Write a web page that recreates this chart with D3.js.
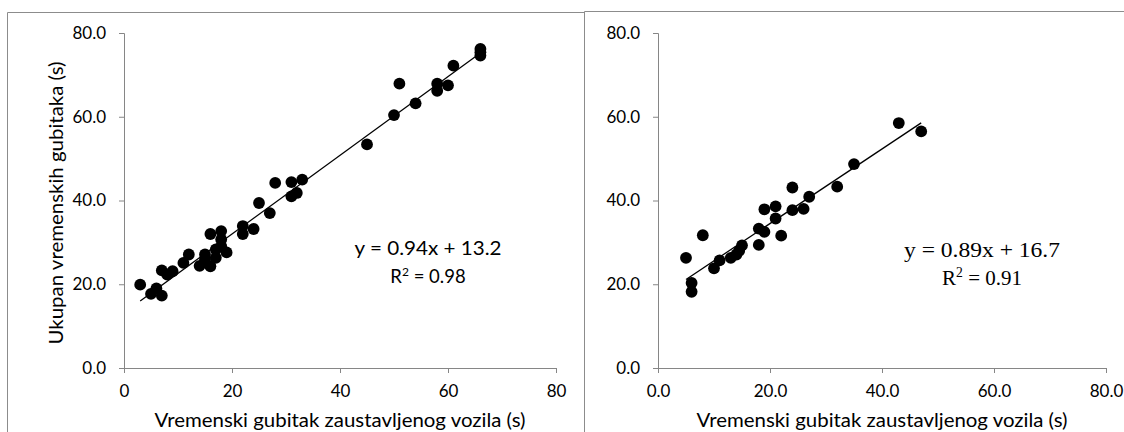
<!DOCTYPE html>
<html>
<head>
<meta charset="utf-8">
<script src="https://cdn.jsdelivr.net/npm/d3@7"></script>
<style>
  html, body { margin: 0; padding: 0; background: #fff; }
  svg { display: block; }
</style>
</head>
<body>
<svg id="chart" width="1124" height="432"></svg>
<script>
// ---- Data ----
const leftX = [3, 5, 6, 7, 7, 8, 9, 11, 12, 14, 15, 15, 16, 16, 17, 17, 18, 18, 18, 19, 22, 22, 24, 25, 27, 28, 31, 31, 32, 33, 45, 50, 51, 54, 58, 58, 60, 61, 66, 66, 66];
const leftY = [19.9, 17.7, 19.0, 17.3, 23.3, 22.3, 23.1, 25.1, 27.1, 24.4, 27.1, 25.9, 24.3, 32.0, 28.3, 26.3, 32.7, 30.7, 29.1, 27.6, 33.9, 32.0, 33.2, 39.4, 37.0, 44.2, 44.4, 41.0, 41.8, 45.0, 53.4, 60.4, 67.9, 63.2, 67.9, 66.2, 67.5, 72.2, 76.2, 75.4, 74.6];
const rightX = [5, 6, 6, 8, 10, 11, 13, 14, 14.5, 15, 18, 18, 19, 19, 21, 21, 22, 24, 24, 26, 27, 32, 35, 43, 47];
const rightY = [26.3, 20.3, 18.2, 31.7, 23.8, 25.7, 26.3, 27.1, 28.0, 29.3, 33.3, 29.4, 37.9, 32.5, 38.6, 35.7, 31.6, 43.1, 37.7, 38.0, 40.9, 43.3, 48.7, 58.5, 56.5];

const leftFit = { slope: 0.94, intercept: 13.2, xMin: 3, xMax: 66 };
const rightFit = { slope: 0.89, intercept: 16.7, xMin: 5, xMax: 47 };

const yTicks = [0, 20, 40, 60, 80];
const xTicks = [0, 20, 40, 60, 80];
const leftXTickLabels = ["0", "20", "40", "60", "80"];
const rightXTickLabels = ["0.0", "20.0", "40.0", "60.0", "80.0"];
const yTickLabels = ["0.0", "20.0", "40.0", "60.0", "80.0"];

const xTitle = "Vremenski gubitak zaustavljenog vozila (s)";
const yTitle = "Ukupan vremenskih gubitaka (s)";
const leftEq = ["y = 0.94x + 13.2", "R", "2", " = 0.98"];
const rightEq = ["y = 0.89x + 16.7", "R", "2", " = 0.91"];

// ---- Drawing ----
const svg = d3.select("#chart");
const axisColor = "#868686";
const frameColor = "#8c8c8c";
const sansFont = "Lato, 'Open Sans', sans-serif";
const serifFont = "'Liberation Serif', 'DejaVu Serif', serif";
const tickSize = "17px";

// frames
svg.append("path")
  .attr("d", "M7.5,440 V12.5 H584.5 V440")
  .attr("fill", "none").attr("stroke", frameColor).attr("stroke-width", 1);
svg.append("path")
  .attr("d", "M584.5,440 V11.5 H1130")
  .attr("fill", "none").attr("stroke", frameColor).attr("stroke-width", 1);

function panel(opts) {
  const x = d3.scaleLinear().domain([0, 80]).range([opts.x0, opts.x1]);
  const y = d3.scaleLinear().domain([0, 80]).range([368, 33]);
  const g = svg.append("g");

  // y axis
  const yAxis = d3.axisLeft(y).tickValues(yTicks)
    .tickFormat((d, i) => yTickLabels[i]).tickSizeOuter(0).tickSize(5).tickPadding(13);
  const ga = g.append("g").attr("transform", `translate(${opts.x0},0)`).call(yAxis);
  ga.select(".domain").attr("stroke", axisColor);
  ga.selectAll(".tick line").attr("stroke", axisColor);
  ga.selectAll(".tick text").attr("fill", "#000").style("font-family", sansFont).style("font-size", tickSize);

  // x axis
  const xAxis = d3.axisBottom(x).tickValues(xTicks)
    .tickFormat((d, i) => opts.xLabels[i]).tickSizeOuter(0).tickSize(5).tickPadding(12);
  const gx = g.append("g").attr("transform", "translate(0,368)").call(xAxis);
  gx.select(".domain").attr("stroke", axisColor);
  gx.selectAll(".tick line").attr("stroke", axisColor);
  gx.selectAll(".tick text").attr("fill", "#000").style("font-family", sansFont).style("font-size", tickSize);

  // points
  g.append("g").selectAll("circle")
    .data(opts.xs.map((v, i) => [v, opts.ys[i]]))
    .join("circle")
    .attr("cx", d => x(d[0])).attr("cy", d => y(d[1]))
    .attr("r", 5.9).attr("fill", "#000");

  // trend line
  const f = opts.fit;
  g.append("line")
    .attr("x1", x(f.xMin)).attr("y1", y(f.slope * f.xMin + f.intercept))
    .attr("x2", x(f.xMax)).attr("y2", y(f.slope * f.xMax + f.intercept))
    .attr("stroke", "#000").attr("stroke-width", 1.3);

  // x title
  g.append("text")
    .attr("x", (opts.x0 + opts.x1) / 2).attr("y", 427)
    .attr("text-anchor", "middle")
    .attr("textLength", 371).attr("lengthAdjust", "spacingAndGlyphs")
    .style("font-family", sansFont).style("font-size", "18.5px")
    .text(xTitle);

  // equation
  const e = opts.eq;
  g.append("text").attr("x", opts.eqX).attr("y", opts.eqY1).attr("text-anchor", "middle")
    .attr("textLength", opts.eqW1).attr("lengthAdjust", "spacingAndGlyphs")
    .style("font-family", opts.eqFont).style("font-size", opts.eqSize + "px").text(e[0]);
  const r2 = g.append("text").attr("x", opts.eqX).attr("y", opts.eqY2).attr("text-anchor", "middle")
    .style("font-family", opts.eqFont).style("font-size", opts.eqSize + "px");
  r2.append("tspan").text(e[1]);
  r2.append("tspan").attr("dy", -opts.eqSize * 0.38).style("font-size", (opts.eqSize * 0.65) + "px").text(e[2]);
  r2.append("tspan").attr("dy", opts.eqSize * 0.38).text(e[3]);
  return { x, y, g };
}

panel({ x0: 124, x1: 556, xs: leftX, ys: leftY, fit: leftFit, xLabels: leftXTickLabels,
        eq: leftEq, eqX: 428, eqY1: 255, eqY2: 283, eqW1: 147, eqFont: sansFont, eqSize: 18.5 });
panel({ x0: 658, x1: 1106, xs: rightX, ys: rightY, fit: rightFit, xLabels: rightXTickLabels,
        eq: rightEq, eqX: 982, eqY1: 257, eqY2: 285, eqW1: 156, eqFont: serifFont, eqSize: 21 });

// y title (left only)
svg.append("text")
  .attr("transform", "translate(63,203) rotate(-90)")
  .attr("text-anchor", "middle")
  .attr("textLength", 283).attr("lengthAdjust", "spacingAndGlyphs")
  .style("font-family", sansFont).style("font-size", "18.5px")
  .text(yTitle);
</script>
</body>
</html>
